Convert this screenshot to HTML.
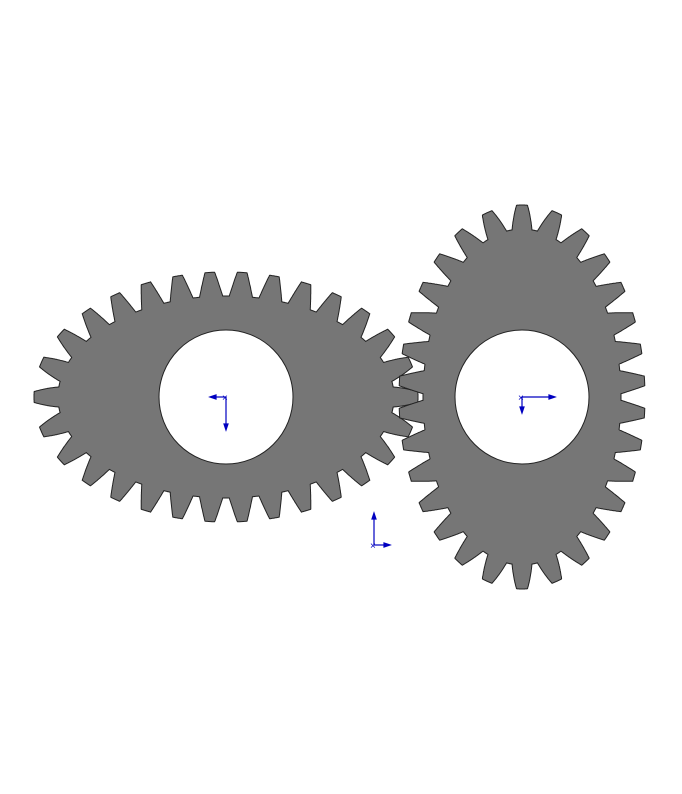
<!DOCTYPE html>
<html><head><style>html,body{margin:0;padding:0;background:#fff;}svg{display:block}</style></head>
<body>
<svg id="s" width="682" height="794" viewBox="0 0 682 794">
<g id="g"></g>
<circle cx="226" cy="397" r="67" fill="#fff" stroke="#222" stroke-width="1"/>
<circle cx="522" cy="397" r="67" fill="#fff" stroke="#222" stroke-width="1"/>
<g stroke="#0000c0" stroke-width="1.2" fill="#0000c0">
<line x1="226" y1="397" x2="212" y2="397"/><polygon points="210,397 216,395 216,399"/>
<line x1="226" y1="397" x2="226" y2="428"/><polygon points="226,430 224,424 228,424"/>
<line x1="522" y1="397" x2="553" y2="397"/><polygon points="555,397 549,395 549,399"/>
<line x1="522" y1="397" x2="522" y2="411"/><polygon points="522,413 520,407 524,407"/>
<line x1="374" y1="545" x2="374" y2="515"/><polygon points="374,513 372,519 376,519"/>
<line x1="374" y1="545" x2="388" y2="545"/><polygon points="390,545 384,543 384,547"/>
<text x="222" y="401" font-family="Liberation Sans,sans-serif" font-size="10" fill="#0000c0" stroke="none">×</text>
<text x="518" y="401" font-family="Liberation Sans,sans-serif" font-size="10" fill="#0000c0" stroke="none">×</text>
<text x="370" y="549" font-family="Liberation Sans,sans-serif" font-size="10" fill="#0000c0" stroke="none">×</text>
</g>
</svg>
<script>
function gear(cx,cy,a,b,n,add,ded,rot,phase){
  var N=4000,pts=[],L=[0],i;
  for(i=0;i<=N;i++){var t=2*Math.PI*i/N;pts.push([a*Math.cos(t),b*Math.sin(t),t]);if(i>0){var dx=pts[i][0]-pts[i-1][0],dy=pts[i][1]-pts[i-1][1];L.push(L[i-1]+Math.hypot(dx,dy));}}
  var P=L[N],out=[];
  for(i=0;i<N;i++){
    var t=pts[i][2],p=((L[i]/P)*n+phase)%1;if(p<0)p+=1;
    var d=Math.min(p,1-p),off;
    if(d<0.15)off=add;else if(d<0.39)off=add-(add+ded)*(d-0.15)/0.24;else off=-ded;
    var nx=b*Math.cos(t),ny=a*Math.sin(t),nl=Math.hypot(nx,ny);nx/=nl;ny/=nl;
    var x=pts[i][0]+nx*off,y=pts[i][1]+ny*off;
    if(rot){var tx=x;x=-y;y=tx;}
    out.push((cx+x).toFixed(1)+','+(cy+y).toFixed(1));
  }
  return '<polygon points="'+out.join(' ')+'" fill="#767676" stroke="#222" stroke-width="1"/>';
}
document.getElementById('g').innerHTML=gear(226,397,180,113,30,12,12,false,0)+gear(522,397,180,111,30,12,12,true,0);
</script>
</body></html>
